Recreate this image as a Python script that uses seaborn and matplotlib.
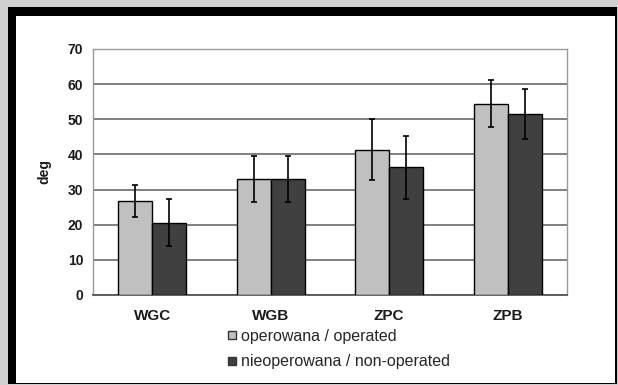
import numpy as np
import pandas as pd
import seaborn as sns
import matplotlib.pyplot as plt
from matplotlib.patches import Rectangle
from matplotlib.lines import Line2D

# values
categories = ['WGC', 'WGB', 'ZPC', 'ZPB']
groups = ['operowana / operated', 'nieoperowana / non-operated']
operated = [26.8, 33.1, 41.3, 54.4]
operated_sd = [4.6, 6.5, 8.7, 6.7]
non_operated = [20.6, 33.1, 36.3, 51.6]
non_operated_sd = [6.7, 6.5, 9.0, 7.1]
colors = ['#c0c0c0', '#404040']

df = pd.DataFrame({
    'cat': categories * 2,
    'group': [groups[0]] * 4 + [groups[1]] * 4,
    'value': operated + non_operated,
    'sd': operated_sd + non_operated_sd,
})

sns.set_style('white')
plt.rcParams['font.family'] = ['Liberation Sans', 'DejaVu Sans']

fig = plt.figure(figsize=(6.18, 3.85), dpi=100)
fig.patch.set_facecolor('#d0d0d0')
W, H = 618, 385
# frame: thick black left/top, thin dark line right/bottom
fig.patches.append(Rectangle((8 / W, 1 / H), 609 / W, 377 / H, transform=fig.transFigure,
                             facecolor='black', edgecolor='none', zorder=-2))
fig.patches.append(Rectangle((16 / W, 2 / H), 599 / W, 367 / H, transform=fig.transFigure,
                             facecolor='white', edgecolor='none', zorder=-1))

ax = fig.add_axes([93 / W, 90 / H, 474 / W, 246 / H])
ax.set_facecolor('none')

sns.barplot(data=df, x='cat', y='value', hue='group', palette=colors, width=0.57,
            edgecolor='black', linewidth=1, saturation=1, ax=ax, zorder=3, legend=False)

# error bars at the bar centres
for cont, grp in zip(ax.containers, groups):
    sub = df[df['group'] == grp]
    xs = [p.get_x() + p.get_width() / 2 for p in cont.patches]
    ax.errorbar(xs, sub['value'], yerr=sub['sd'], fmt='none', ecolor='black',
                elinewidth=1.2, capsize=2.2, capthick=1.2, zorder=4)

ax.set_ylim(0, 70)
ax.set_xlim(-0.5, 3.5)
ax.set_yticks(range(0, 71, 10))
ax.yaxis.grid(True, color='#808080', linewidth=1.4, zorder=1)
ax.set_axisbelow(True)

for side in ['top', 'right', 'left']:
    ax.spines[side].set_color('#9a9a9a')
    ax.spines[side].set_linewidth(1)
ax.spines['bottom'].set_color('#555555')
ax.spines['bottom'].set_linewidth(1.3)

ax.tick_params(axis='y', length=4, width=1, color='#888888', labelsize=10,
               labelcolor='#1a1a1a', pad=3)
ax.set_xticks(range(4))
ax.set_xticklabels(categories, fontsize=11, fontweight='bold', color='#1a1a1a')
ax.tick_params(axis='x', length=0, pad=10)
ax.set_xticks([0.5, 1.5, 2.5], minor=True)
ax.tick_params(axis='x', which='minor', length=4, color='#999999', width=1)
for lab in ax.get_yticklabels():
    lab.set_fontweight('bold')

ax.set_xlabel('')
ax.set_ylabel('deg', fontsize=10, fontweight='bold', color='#1a1a1a', labelpad=12)

handles = [Line2D([], [], marker='s', linestyle='none', markersize=6,
                  markerfacecolor=c, markeredgecolor='#333333', markeredgewidth=1)
           for c in colors]
fig.legend(handles, groups, loc='upper left', bbox_to_anchor=(228 / W, 1 - 329 / H),
           frameon=False, handlelength=0.5, handletextpad=0.3,
           labelspacing=0.65, borderaxespad=0, borderpad=0,
           prop={'family': ['Liberation Sans'], 'size': 11.5})

fig.savefig('out.png', dpi=100, facecolor=fig.get_facecolor())
